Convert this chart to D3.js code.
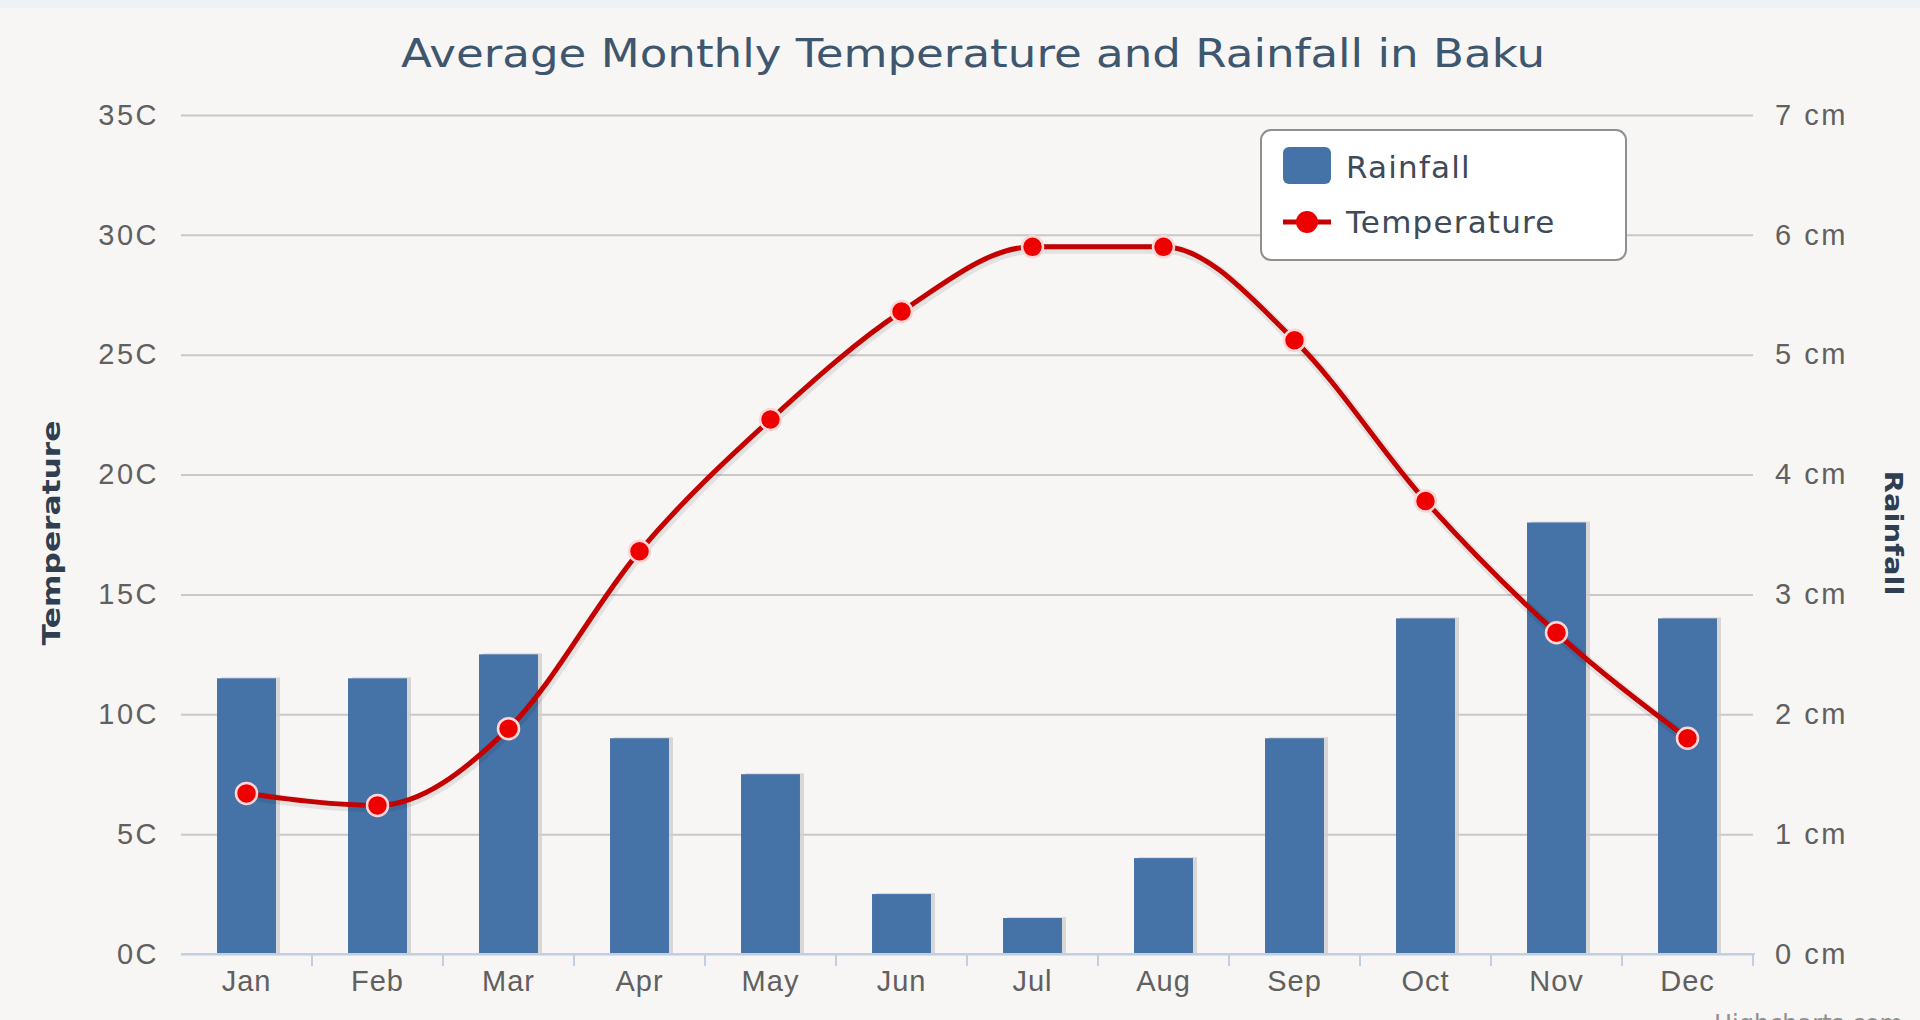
<!DOCTYPE html>
<html>
<head>
<meta charset="utf-8">
<script src="https://cdn.jsdelivr.net/npm/d3@7"></script>
<style>
  html, body { margin: 0; padding: 0; background: #f7f6f4; }
  svg { display: block; font-family: "DejaVu Sans", sans-serif; }
</style>
</head>
<body>
<div id="chart"></div>
<script>
// Chart data
const months = ['Jan', 'Feb', 'Mar', 'Apr', 'May', 'Jun', 'Jul', 'Aug', 'Sep', 'Oct', 'Nov', 'Dec'];
const rainfall = [2.3, 2.3, 2.5, 1.8, 1.5, 0.5, 0.3, 0.8, 1.8, 2.8, 3.6, 2.8];
const temperature = [6.7, 6.2, 9.4, 16.8, 22.3, 26.8, 29.5, 29.5, 25.6, 18.9, 13.4, 9.0];
const tempTicks = [0, 5, 10, 15, 20, 25, 30, 35];
const rainTicks = [0, 1, 2, 3, 4, 5, 6, 7];

// Size and plot area
const svgWidth = 1920;
const svgHeight = 1020;
const plotLeft = 181, plotRight = 1753, plotTop = 115, plotBottom = 954;

const svg = d3.select('#chart')
    .append('svg')
    .attr('width', svgWidth)
    .attr('height', svgHeight);

// Background
svg.append('rect')
    .attr('width', svgWidth)
    .attr('height', svgHeight)
    .attr('fill', '#f7f6f4');
svg.append('rect')
    .attr('width', svgWidth)
    .attr('height', 8)
    .attr('fill', '#eef2f5');

// Scales
const xScale = d3.scaleBand()
    .domain(months)
    .range([plotLeft, plotRight]);

const barScale = d3.scaleBand()
    .domain(months)
    .range([plotLeft, plotRight])
    .paddingInner(0.55)
    .paddingOuter(0.275);

const yTemp = d3.scaleLinear()
    .domain([0, 35])
    .range([plotBottom, plotTop]);

const yRain = d3.scaleLinear()
    .domain([0, 7])
    .range([plotBottom, plotTop]);

// Left axis with gridlines
const leftAxis = svg.append('g')
    .attr('transform', 'translate(' + plotLeft + ',0)')
    .call(d3.axisLeft(yTemp)
        .tickValues(tempTicks)
        .tickSize(-(plotRight - plotLeft))
        .tickPadding(22)
        .tickFormat(d => d + 'C'));
leftAxis.select('.domain').remove();
leftAxis.selectAll('line').attr('stroke', '#c8c8c8').attr('stroke-width', 2);
leftAxis.selectAll('text')
    .attr('fill', '#606060')
    .style('font-size', '29px')
    .style('letter-spacing', '2.5px');

// Right axis
const rightAxis = svg.append('g')
    .attr('transform', 'translate(' + plotRight + ',0)')
    .call(d3.axisRight(yRain)
        .tickValues(rainTicks)
        .tickSize(0)
        .tickPadding(22)
        .tickFormat(d => d + ' cm'));
rightAxis.select('.domain').remove();
rightAxis.selectAll('text')
    .attr('fill', '#606060')
    .style('font-size', '29px')
    .style('letter-spacing', '2.5px');

// Bars (shadow first)
svg.append('g')
    .selectAll('rect')
    .data(rainfall)
    .join('rect')
    .attr('x', (d, i) => barScale(months[i]) + 4)
    .attr('y', d => yRain(d) - 1)
    .attr('width', barScale.bandwidth())
    .attr('height', d => plotBottom - yRain(d) + 1)
    .attr('fill', '#cfcfcf')
    .attr('opacity', 0.8);

svg.append('g')
    .selectAll('rect')
    .data(rainfall)
    .join('rect')
    .attr('x', (d, i) => barScale(months[i]))
    .attr('y', d => yRain(d))
    .attr('width', barScale.bandwidth())
    .attr('height', d => plotBottom - yRain(d))
    .attr('fill', '#4572a7');

// Bottom axis
const bottomAxis = svg.append('g')
    .attr('transform', 'translate(0,' + plotBottom + ')')
    .call(d3.axisBottom(xScale)
        .tickSize(0)
        .tickPadding(16));
bottomAxis.select('.domain').remove();
bottomAxis.selectAll('text')
    .attr('fill', '#606060')
    .style('font-size', '29px')
    .style('letter-spacing', '1px');

svg.append('line')
    .attr('x1', plotLeft)
    .attr('x2', plotRight + 2)
    .attr('y1', plotBottom)
    .attr('y2', plotBottom)
    .attr('stroke', '#c0d0e0')
    .attr('stroke-width', 2);

svg.append('g')
    .selectAll('line')
    .data(months)
    .join('line')
    .attr('x1', d => xScale(d) + xScale.bandwidth())
    .attr('x2', d => xScale(d) + xScale.bandwidth())
    .attr('y1', plotBottom)
    .attr('y2', plotBottom + 12)
    .attr('stroke', '#c0d0e0')
    .attr('stroke-width', 2);

// Temperature line
const line = d3.line()
    .x((d, i) => xScale(months[i]) + xScale.bandwidth() / 2)
    .y(d => yTemp(d))
    .curve(d3.curveMonotoneX);

svg.append('path')
    .datum(temperature)
    .attr('d', line)
    .attr('transform', 'translate(1,2)')
    .attr('fill', 'none')
    .attr('stroke', 'rgba(0,0,0,0.08)')
    .attr('stroke-width', 10);

svg.append('path')
    .datum(temperature)
    .attr('d', line)
    .attr('fill', 'none')
    .attr('stroke', '#c40000')
    .attr('stroke-width', 5);

svg.append('g')
    .selectAll('circle')
    .data(temperature)
    .join('circle')
    .attr('cx', (d, i) => xScale(months[i]) + xScale.bandwidth() / 2)
    .attr('cy', d => yTemp(d))
    .attr('r', 10.5)
    .attr('fill', '#ee0000')
    .attr('stroke', '#ffd6d6')
    .attr('stroke-width', 2.5);

// Title
svg.append('text')
    .attr('x', 973)
    .attr('y', 67)
    .attr('text-anchor', 'middle')
    .attr('fill', '#3e576f')
    .attr('textLength', 1144)
    .attr('lengthAdjust', 'spacingAndGlyphs')
    .style('font-size', '39px')
    .text('Average Monthly Temperature and Rainfall in Baku');

// Axis titles
svg.append('text')
    .attr('transform', 'translate(60,533) rotate(-90)')
    .attr('text-anchor', 'middle')
    .attr('fill', '#2f3e50')
    .attr('textLength', 225)
    .attr('lengthAdjust', 'spacingAndGlyphs')
    .style('font-size', '25px')
    .style('font-weight', 'bold')
    .text('Temperature');

svg.append('text')
    .attr('transform', 'translate(1885,533) rotate(90)')
    .attr('text-anchor', 'middle')
    .attr('fill', '#2f3e50')
    .attr('textLength', 125)
    .attr('lengthAdjust', 'spacingAndGlyphs')
    .style('font-size', '25px')
    .style('font-weight', 'bold')
    .text('Rainfall');

// Legend
const legend = svg.append('g');
legend.append('rect')
    .attr('x', 1261)
    .attr('y', 130)
    .attr('width', 365)
    .attr('height', 130)
    .attr('rx', 10)
    .attr('fill', '#ffffff')
    .attr('stroke', '#909090')
    .attr('stroke-width', 2);
legend.append('rect')
    .attr('x', 1283)
    .attr('y', 147)
    .attr('width', 48)
    .attr('height', 37)
    .attr('rx', 6)
    .attr('fill', '#4572a7');
legend.append('line')
    .attr('x1', 1283)
    .attr('x2', 1331)
    .attr('y1', 222)
    .attr('y2', 222)
    .attr('stroke', '#c40000')
    .attr('stroke-width', 5);
legend.append('circle')
    .attr('cx', 1307)
    .attr('cy', 222)
    .attr('r', 11)
    .attr('fill', '#ee0000');
legend.selectAll('text.item')
    .data(['Rainfall', 'Temperature'])
    .join('text')
    .attr('class', 'item')
    .attr('x', 1346)
    .attr('y', (d, i) => 167 + i * 55)
    .attr('dy', '0.35em')
    .attr('fill', '#3e4a57')
    .style('font-size', '31px')
    .style('letter-spacing', '1.2px')
    .text(d => d);

// Credits
svg.append('text')
    .attr('x', 1714)
    .attr('y', 1032)
    .attr('fill', '#909090')
    .style('font-size', '24px')
    .text('Highcharts.com');
</script>
</body>
</html>
